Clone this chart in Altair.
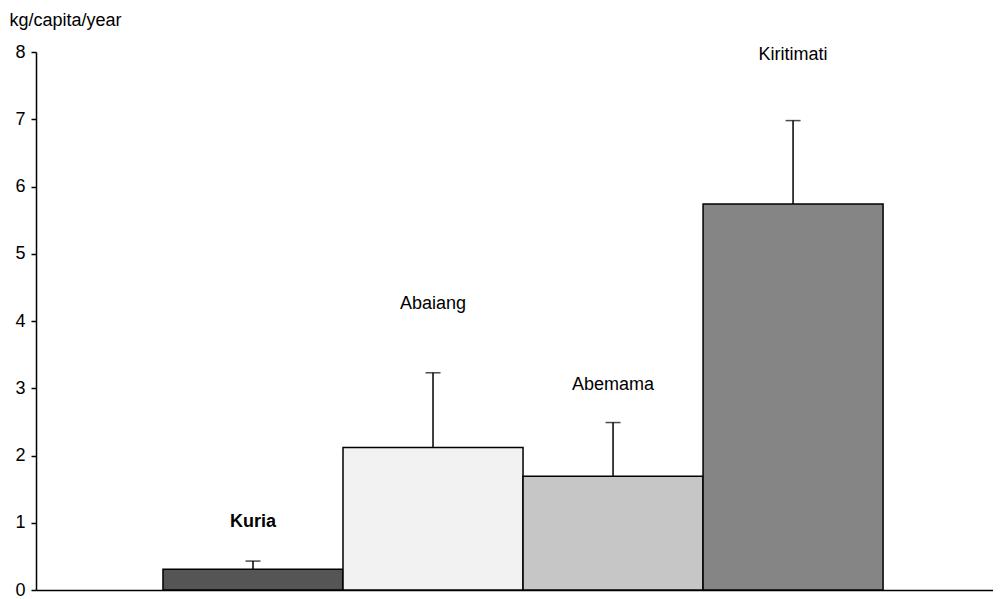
import altair as alt
import pandas as pd

sites = ["Kuria", "Abaiang", "Abemama", "Kiritimati"]
values = [0.31, 2.12, 1.69, 5.74]
upper = [0.43, 3.23, 2.49, 6.98]
label_y = [1.01, 4.25, 3.05, 7.96]
fills = ["#555555", "#f2f2f2", "#c6c6c6", "#858585"]
y_ticks = [0, 1, 2, 3, 4, 5, 6, 7, 8]

df = pd.DataFrame({"site": sites, "value": values, "upper": upper, "label_y": label_y})

FONT = "Liberation Sans"

x_enc = alt.X(
    "site:N",
    sort=sites,
    scale=alt.Scale(paddingInner=0, paddingOuter=0.658, align=0.536),
    axis=alt.Axis(title=None, labels=False, ticks=False, domainColor="black", domainWidth=1.5),
)

y_scale = alt.Scale(domain=[0, 8], nice=False, zero=True)

y_enc = alt.Y(
    "value:Q",
    scale=y_scale,
    axis=alt.Axis(
        values=y_ticks,
        format="d",
        title="kg/capita/year",
        titleAngle=0,
        titleAlign="left",
        titleBaseline="top",
        titleX=-27,
        titleY=-41,
        titleFont=FONT,
        titleFontSize=18,
        titleFontWeight="normal",
        titleColor="black",
        labelFont=FONT,
        labelFontSize=18,
        labelColor="black",
        labelPadding=6,
        tickSize=5,
        tickColor="black",
        tickWidth=1.5,
        domainColor="black",
        domainWidth=1.5,
        grid=False,
    ),
)

base = alt.Chart(df)

bars = base.mark_bar(stroke="black", strokeWidth=1.5).encode(
    x=x_enc,
    y=y_enc,
    color=alt.Color("site:N", scale=alt.Scale(domain=sites, range=fills), legend=None),
)

err = base.mark_rule(color="black", strokeWidth=1.5).encode(
    x=x_enc, y=alt.Y("value:Q", scale=y_scale), y2="upper:Q"
)

cap = base.mark_tick(color="black", thickness=1.5, size=15, orient="horizontal").encode(
    x=x_enc, y=alt.Y("upper:Q", scale=y_scale)
)

labels = base.transform_filter(alt.datum.site != "Kuria").mark_text(
    font=FONT, fontSize=18, color="black"
).encode(x=x_enc, y=alt.Y("label_y:Q", scale=y_scale), text="site:N")

label_bold = base.transform_filter(alt.datum.site == "Kuria").mark_text(
    font=FONT, fontSize=18, fontWeight="bold", color="black"
).encode(x=x_enc, y=alt.Y("label_y:Q", scale=y_scale), text="site:N")

chart = (
    alt.layer(bars, err, cap, labels, label_bold)
    .properties(
        width=957,
        height=538,
        padding={"left": 28, "top": 44, "right": 0, "bottom": 8},
        autosize="none",
        background="white",
    )
    .configure_view(stroke=None)
)

chart.save("out.html", embed_options={"renderer": "svg", "actions": False})
